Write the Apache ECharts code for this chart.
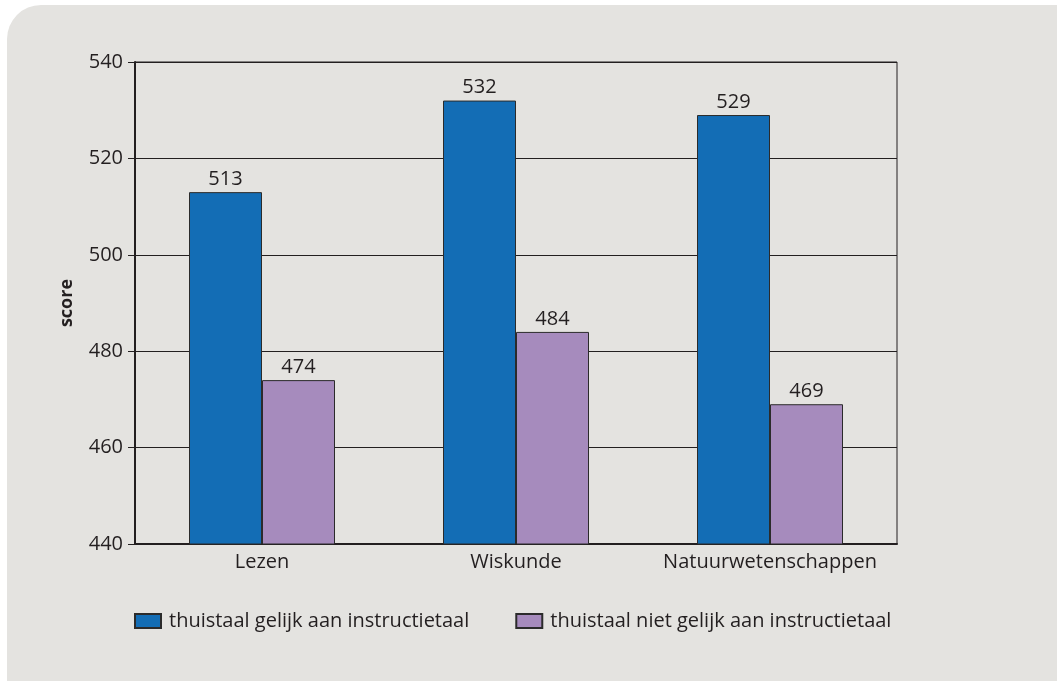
<!DOCTYPE html>
<html lang="nl">
<head>
    <meta charset="UTF-8">
    <title>score naar thuistaal</title>
    <style>
        html, body { margin: 0; padding: 0; background: #ffffff; }
        .kader {
            position: absolute;
            left: 7px;
            top: 5px;
            width: 1050px;
            height: 676px;
            background: #e4e3e0;
            border-top-left-radius: 34px;
        }
        .grafiek {
            position: absolute;
            left: 0;
            top: 0;
            width: 1057px;
            height: 681px;
        }
    </style>
    <script src="https://cdn.jsdelivr.net/npm/echarts@6/dist/echarts.min.js"></script>
</head>
<body>
<div class="kader"></div>
<div class="grafiek" id="grafiek"></div>
<script>
    // gegevens
    var vakken = ["Lezen", "Wiskunde", "Natuurwetenschappen"];
    var gelijk = [513, 532, 529];
    var nietGelijk = [474, 484, 469];
    var reeksNamen = ["thuistaal gelijk aan instructietaal", "thuistaal niet gelijk aan instructietaal"];
    var yMin = 440, yMax = 540, yStap = 20;

    var lettertype = "Open Sans";
    var tekstKleur = "#231f20";

    var grafiek = echarts.init(document.getElementById("grafiek"));

    function reeks(naam, data, kleur) {
        return {
            name: naam,
            type: "bar",
            data: data,
            barWidth: 73,
            barGap: "0%",
            itemStyle: {
                color: kleur,
                borderColor: "#2b2b2b",
                borderWidth: 1
            },
            label: {
                show: true,
                position: "top",
                distance: 3,
                color: tekstKleur,
                fontFamily: lettertype,
                fontSize: 20
            }
        };
    }

    var option = {
        backgroundColor: "transparent",
        animation: false,
        grid: {
            left: 135,
            top: 62,
            width: 762,
            height: 482,
            show: true,
            borderColor: "#231f20",
            borderWidth: 1
        },
        legend: {
            left: 134,
            top: 611,
            padding: 0,
            itemWidth: 26,
            itemHeight: 14,
            itemGap: 46,
            icon: "rect",
            textStyle: {
                color: tekstKleur,
                fontFamily: lettertype,
                fontSize: 20,
                padding: [0, 0, 0, 3]
            },
            data: reeksNamen
        },
        xAxis: {
            type: "category",
            data: vakken,
            axisLine: { lineStyle: { color: "#231f20", width: 2 } },
            axisTick: { length: 6, lineStyle: { color: "#231f20", width: 1 } },
            axisLabel: {
                interval: 0,
                color: tekstKleur,
                fontFamily: lettertype,
                fontSize: 20,
                margin: 8
            }
        },
        yAxis: {
            type: "value",
            min: yMin,
            max: yMax,
            interval: yStap,
            name: "score",
            nameLocation: "middle",
            nameGap: 59,
            nameTextStyle: {
                color: tekstKleur,
                fontFamily: lettertype,
                fontSize: 18,
                fontWeight: "bold"
            },
            axisLine: { show: true, lineStyle: { color: "#231f20", width: 2 } },
            axisTick: { show: true, length: 7, lineStyle: { color: "#231f20", width: 1 } },
            axisLabel: {
                color: tekstKleur,
                fontFamily: lettertype,
                fontSize: 20,
                margin: 12
            },
            splitLine: { show: true, lineStyle: { color: "#231f20", width: 1 } }
        },
        series: [
            reeks(reeksNamen[0], gelijk, "#136db5"),
            reeks(reeksNamen[1], nietGelijk, "#a68bbd")
        ]
    };

    grafiek.setOption(option);
</script>
</body>
</html>
